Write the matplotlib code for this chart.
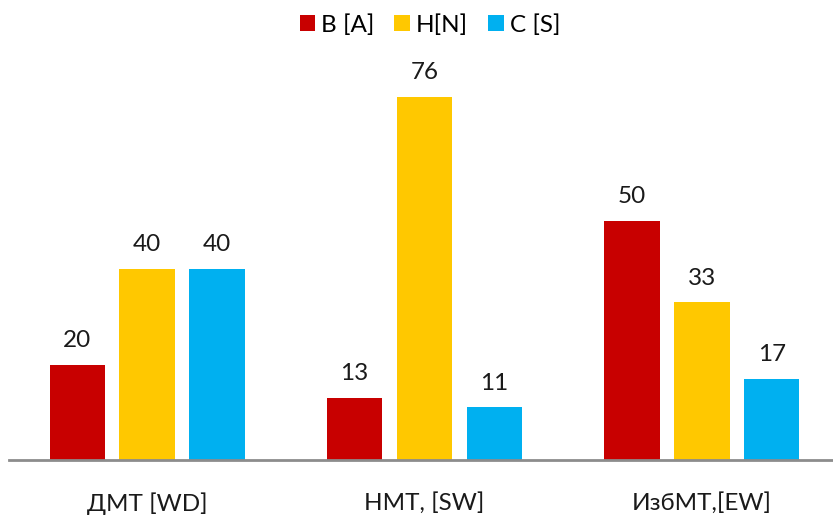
import matplotlib
matplotlib.use("Agg")
import matplotlib.pyplot as plt
import numpy as np

plt.rcParams['font.family'] = ['Lato', 'DejaVu Sans']

categories = ["ДМТ [WD]", "НМТ, [SW]", "ИзбМТ,[EW]"]
series_names = ["B [A]", "H[N]", "C [S]"]
b_values = [20, 13, 50]
h_values = [40, 76, 33]
c_values = [40, 11, 17]
colors = ["#C80000", "#FFC800", "#00B0F0"]

fig = plt.figure(figsize=(8.33, 5.16), dpi=100)
# axes slightly wider than the figure so the last group sits near the edge
ax = fig.add_axes([8.5 / 833, 56 / 516, 832 / 833, 382 / 516])

x = np.arange(len(categories))
width = 0.2
step = 0.252
for i, (vals, name, col) in enumerate(zip([b_values, h_values, c_values], series_names, colors)):
    pos = x + (i - 1) * step
    ax.bar(pos, vals, width=width, color=col, label=name, zorder=2)
    for px, v in zip(pos, vals):
        ax.annotate(f"{v}", (px, v), xytext=(0, 10), textcoords="offset points",
                    ha="center", va="bottom", fontsize=17.5, color="#1a1a1a")

ax.set_xlim(-0.5, 2.5)
ax.set_ylim(0, 80)
ax.set_yticks([])
ax.set_xticks(x)
ax.set_xticklabels(categories, fontsize=17.5, color="#1a1a1a")
ax.tick_params(axis="x", length=0, pad=23)
for s in ["top", "right", "left"]:
    ax.spines[s].set_visible(False)
ax.spines["bottom"].set_color("#8C8C8C")
ax.spines["bottom"].set_linewidth(2)

fig.legend(loc="upper center", bbox_to_anchor=(0.516, 1.015), ncol=3, frameon=False,
           fontsize=17.5, handlelength=0.65, handleheight=0.65, handletextpad=0.25,
           columnspacing=0.8)

fig.savefig("out.png", dpi=100)
